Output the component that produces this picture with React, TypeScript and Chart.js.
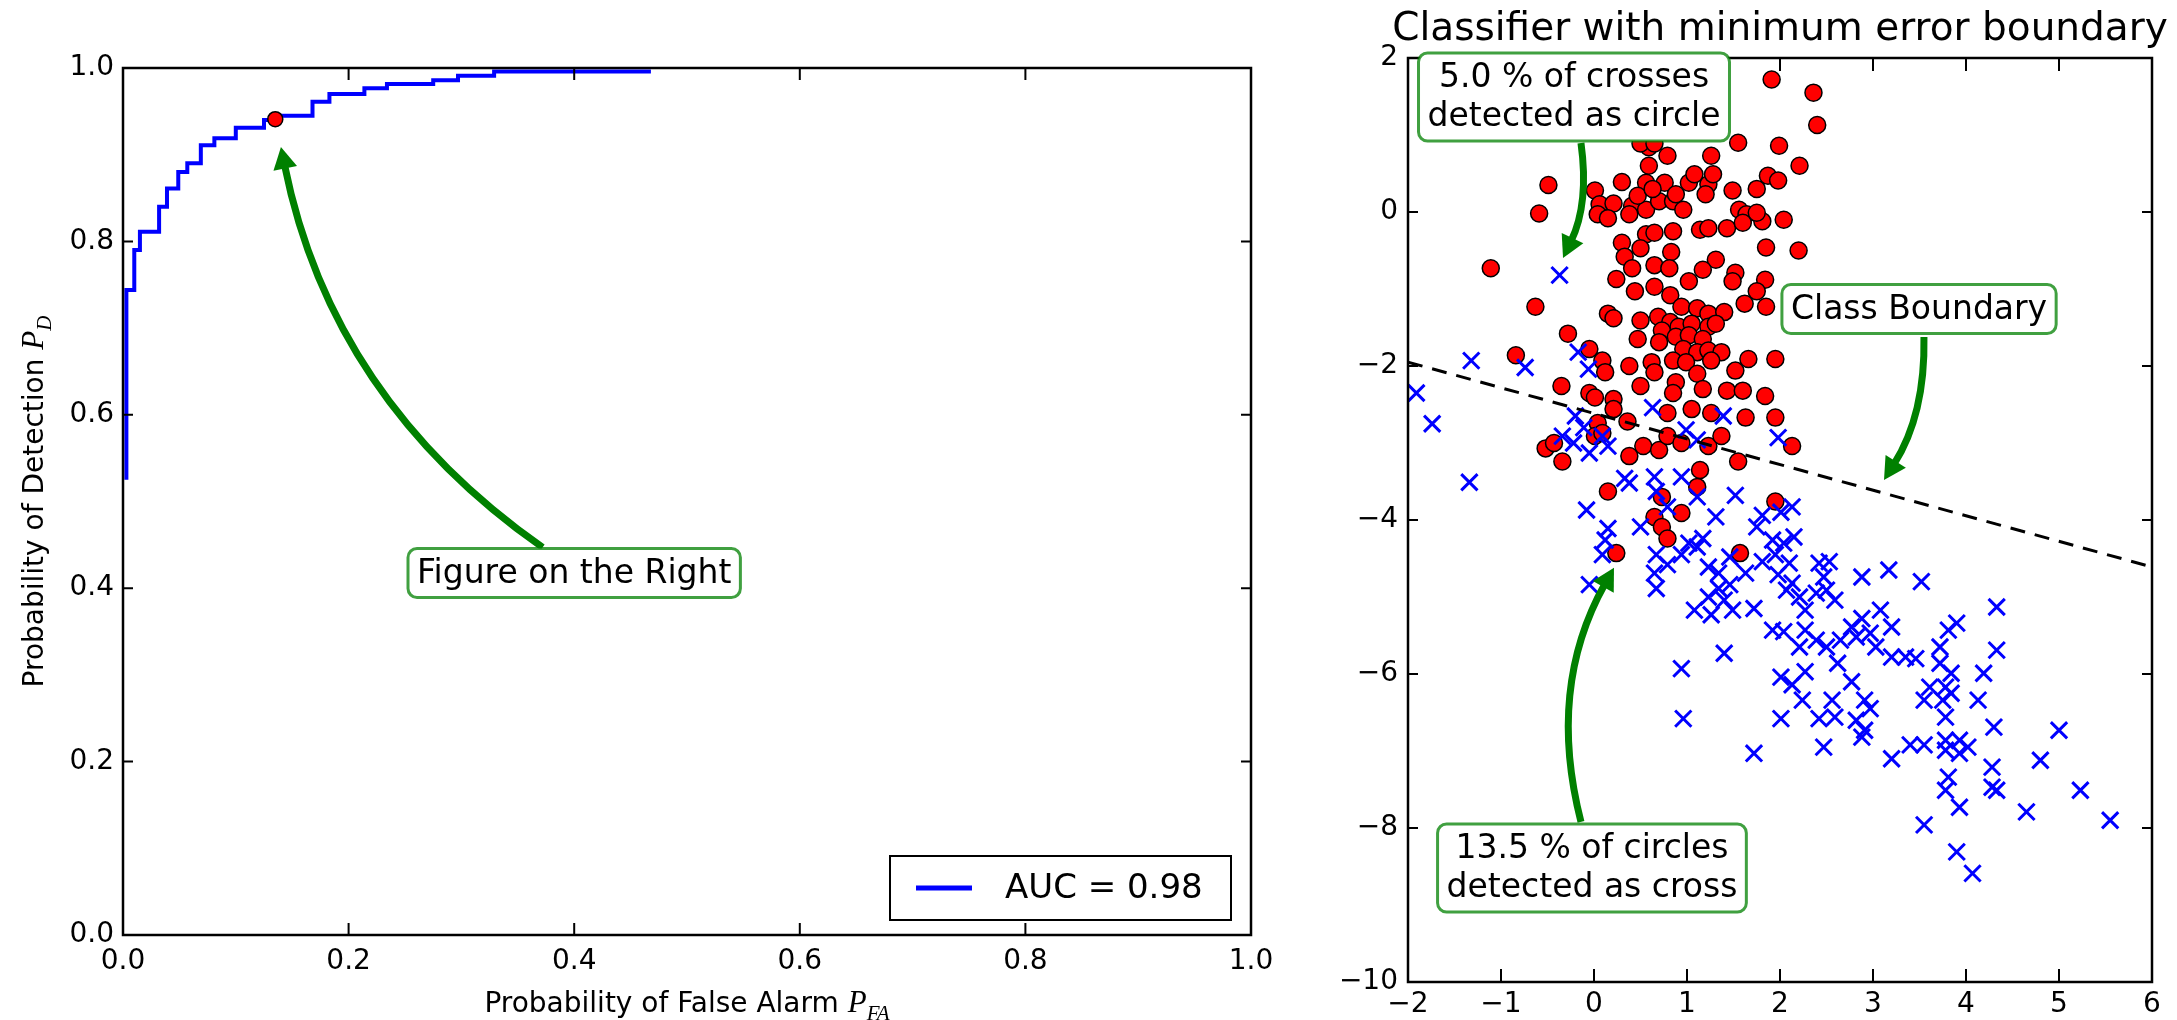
import React, { useEffect, useRef } from "react";
import { Chart, registerables } from "chart.js";

Chart.register(...registerables);

const SANS = "'DejaVu Sans', 'Noto Sans', sans-serif";
const MATH = "'Liberation Serif', 'DejaVu Serif', serif";
const GREEN = "#008000";

// ---------- Left chart: ROC curve ----------
const rocFpr = [0.003, 0.003, 0.010, 0.015, 0.032, 0.039, 0.049, 0.057, 0.069, 0.081, 0.100, 0.125, 0.139, 0.168, 0.183, 0.214, 0.234, 0.275, 0.297, 0.329, 0.468];
const rocTpr = [0.525, 0.744, 0.790, 0.811, 0.840, 0.861, 0.880, 0.890, 0.911, 0.919, 0.931, 0.940, 0.945, 0.961, 0.970, 0.9765, 0.9815, 0.986, 0.991, 0.996, 0.996];
const operatingPoint: [number, number] = [0.135, 0.941];
const aucLabel = "AUC = 0.98";
const rocTickStep = 0.2;

// ---------- Right chart: scatter ----------
const circlePoints: [number, number][] = [
  [1.91, 1.72], [2.36, 1.55], [2.40, 1.13], [1.55, 0.90], [1.99, 0.86], [0.79, 0.73], [1.26, 0.73], [0.59, 0.84], [0.59, 0.60], [2.21, 0.60],
  [-0.49, 0.35], [0.30, 0.39], [0.01, 0.28], [0.56, 0.38], [0.76, 0.38], [1.02, 0.38], [1.23, 0.36], [1.08, 0.49], [1.28, 0.49], [1.49, 0.28],
  [1.75, 0.30], [1.87, 0.47], [1.98, 0.41], [-0.59, -0.02], [0.06, 0.10], [0.21, 0.11], [0.41, 0.08], [0.56, 0.03], [0.70, 0.14], [0.85, 0.14],
  [0.96, 0.03], [0.04, -0.03], [0.15, -0.08], [0.38, -0.03], [0.47, 0.21], [0.63, 0.30], [0.88, 0.23], [1.20, 0.23], [1.56, 0.03], [1.64, -0.03],
  [1.81, -0.12], [2.04, -0.10], [1.75, -0.01], [1.14, -0.23], [1.23, -0.21], [1.43, -0.21], [1.60, -0.14], [0.56, -0.29], [0.65, -0.27], [0.85, -0.25],
  [0.30, -0.40], [0.50, -0.47], [0.33, -0.58], [0.83, -0.52], [1.85, -0.46], [2.20, -0.50], [-1.11, -0.73], [0.41, -0.73], [0.65, -0.69], [0.81, -0.73],
  [1.31, -0.62], [1.17, -0.75], [1.52, -0.79], [0.24, -0.87], [1.02, -0.90], [1.49, -0.90], [1.84, -0.88], [0.65, -0.97], [0.44, -1.03], [0.82, -1.08],
  [1.75, -1.03], [1.62, -1.19], [1.85, -1.23], [-0.63, -1.23], [0.15, -1.32], [0.21, -1.38], [0.50, -1.41], [0.69, -1.36], [0.94, -1.23], [1.11, -1.25],
  [1.23, -1.32], [1.40, -1.30], [0.82, -1.43], [0.73, -1.54], [0.91, -1.49], [1.05, -1.45], [1.23, -1.49], [1.31, -1.45], [-0.28, -1.58], [0.47, -1.65],
  [0.70, -1.69], [0.88, -1.62], [1.02, -1.60], [1.17, -1.65], [0.96, -1.78], [1.11, -1.82], [1.23, -1.80], [1.37, -1.82], [-0.84, -1.86], [-0.05, -1.78],
  [0.09, -1.93], [0.38, -2.00], [0.62, -1.95], [0.85, -1.93], [0.99, -1.95], [1.26, -1.93], [1.66, -1.91], [1.95, -1.91], [0.12, -2.08], [0.65, -2.08],
  [1.11, -2.10], [1.52, -2.06], [0.50, -2.26], [0.88, -2.21], [1.17, -2.30], [1.43, -2.32], [1.60, -2.32], [1.84, -2.39], [-0.35, -2.26], [-0.05, -2.35],
  [0.01, -2.41], [0.21, -2.43], [0.85, -2.35], [0.21, -2.56], [0.36, -2.72], [0.79, -2.61], [1.05, -2.56], [1.26, -2.61], [1.63, -2.67], [1.95, -2.67],
  [0.04, -2.74], [-0.52, -3.07], [-0.43, -3.00], [-0.34, -3.24], [0.01, -2.91], [0.09, -2.87], [0.38, -3.17], [0.53, -3.04], [0.70, -3.09], [0.79, -2.91],
  [0.94, -3.00], [1.23, -3.04], [1.37, -2.91], [1.55, -3.24], [2.13, -3.04], [1.14, -3.35], [0.15, -3.63], [1.11, -3.57], [0.73, -3.70], [1.95, -3.76],
  [0.65, -3.96], [0.73, -4.09], [0.79, -4.24], [0.94, -3.91], [0.24, -4.43], [1.57, -4.43], [0.50, 0.89], [0.65, 0.89],
];

const crossPoints: [number, number][] = [
  [-0.37, -0.82], [-1.32, -1.93], [-0.74, -2.02], [-1.91, -2.35], [-1.74, -2.75], [-1.34, -3.51], [-0.17, -1.82], [-0.06, -2.04], [0.63, -2.54], [1.39, -2.65],
  [-0.20, -2.65], [-0.11, -2.80], [-0.34, -2.91], [-0.22, -3.00], [-0.05, -3.13], [0.09, -2.91], [0.15, -3.04], [0.99, -2.83], [1.11, -2.96], [1.98, -2.93],
  [0.33, -3.46], [0.65, -3.44], [0.94, -3.44], [0.67, -3.63], [1.52, -3.68], [1.11, -3.70], [-0.08, -3.87], [0.38, -3.52], [0.79, -3.83], [1.31, -3.96],
  [1.81, -3.94], [2.13, -3.83], [2.01, -3.90], [0.15, -4.11], [0.12, -4.26], [0.09, -4.45], [-0.05, -4.84], [0.50, -4.09], [0.67, -4.45], [0.65, -4.69],
  [0.67, -4.89], [0.79, -4.58], [0.94, -4.45], [1.02, -4.30], [1.17, -4.24], [1.11, -4.35], [1.23, -4.61], [1.34, -4.69], [1.46, -4.48], [1.75, -4.09],
  [1.08, -5.17], [1.23, -5.00], [1.26, -5.23], [1.40, -5.04], [1.49, -5.17], [1.34, -4.89], [1.46, -4.84], [1.72, -5.15], [1.63, -4.69], [1.81, -4.54],
  [1.92, -4.26], [2.04, -4.30], [2.15, -4.22], [1.95, -4.45], [2.10, -4.56], [1.98, -4.71], [2.13, -4.82], [2.21, -5.00], [2.07, -4.91], [1.92, -5.43],
  [2.04, -5.45], [2.27, -5.17], [2.42, -4.56], [2.53, -4.54], [2.47, -4.74], [2.50, -4.91], [2.59, -5.04], [2.39, -4.95], [2.88, -4.74], [3.17, -4.65],
  [3.52, -4.80], [4.33, -5.13], [2.27, -5.43], [2.39, -5.56], [2.21, -5.65], [2.50, -5.65], [2.65, -5.56], [2.77, -5.39], [2.88, -5.28], [2.97, -5.47],
  [3.08, -5.17], [3.20, -5.39], [2.82, -5.52], [3.03, -5.65], [3.20, -5.78], [3.35, -5.78], [3.46, -5.80], [3.72, -5.65], [3.90, -5.34], [3.81, -5.43],
  [4.33, -5.69], [1.40, -5.73], [0.94, -5.93], [2.01, -6.04], [2.13, -6.14], [2.27, -5.97], [2.62, -5.86], [2.77, -6.10], [2.56, -6.34], [2.24, -6.34],
  [2.91, -6.34], [2.97, -6.45], [3.72, -5.86], [3.84, -5.99], [3.78, -6.17], [3.61, -6.17], [3.55, -6.34], [3.75, -6.34], [3.84, -6.25], [4.13, -6.34],
  [4.19, -5.99], [3.78, -6.56], [4.30, -6.69], [5.00, -6.73], [0.96, -6.58], [2.01, -6.58], [2.42, -6.58], [2.59, -6.56], [2.82, -6.60], [2.91, -6.73],
  [2.88, -6.82], [2.47, -6.95], [1.72, -7.03], [3.20, -7.10], [3.40, -6.92], [3.55, -6.92], [3.78, -6.86], [3.93, -6.86], [4.02, -6.95], [3.78, -6.99],
  [3.93, -7.03], [4.28, -7.21], [4.80, -7.12], [3.81, -7.34], [3.78, -7.51], [4.28, -7.47], [4.33, -7.51], [5.23, -7.51], [3.93, -7.73], [4.65, -7.79],
  [3.55, -7.96], [5.55, -7.90], [3.90, -8.31], [4.07, -8.59],
];

const boundaryX = [-2, 6];
const boundaryY = [-1.95, -4.61];
const scatterTitle = "Classifier with minimum error boundary";

type Note = { lines: string[]; box: [number, number]; tail: [number, number]; tip: [number, number]; rad: number };

const leftNotes: Note[] = [
  { lines: ["Figure on the Right"], box: [0.40, 0.4175], tail: [0.372, 0.447], tip: [0.140, 0.909], rad: 0.2 },
];
const rightNotes: Note[] = [
  { lines: ["5.0 % of crosses", "detected as circle"], box: [-0.215, 1.494], tail: [-0.14, 0.896], tip: [-0.333, -0.597], rad: 0.15 },
  { lines: ["Class Boundary"], box: [3.495, -1.26], tail: [3.548, -1.623], tip: [3.118, -3.48], rad: 0.15 },
  { lines: ["13.5 % of circles", "detected as cross"], box: [-0.022, -8.52], tail: [-0.14, -7.92], tip: [0.215, -4.62], rad: 0.2 },
];

// ---------- helpers ----------
function rocStairs() {
  const pts: { x: number; y: number }[] = [];
  for (let i = 0; i < rocFpr.length; i++) {
    if (i > 0) pts.push({ x: rocFpr[i], y: rocTpr[i - 1] });
    pts.push({ x: rocFpr[i], y: rocTpr[i] });
  }
  return pts;
}

const minus = (v: number) => (v < 0 ? "\u2212" + Math.abs(v) : String(v));

const fixY = (w: number) => (s: any) => {
  s.width = w;
  s.paddingTop = 0; s.paddingBottom = 0; s.paddingLeft = 0; s.paddingRight = 0;
};
const fixX = (h: number) => (s: any) => {
  s.height = h;
  s.paddingTop = 0; s.paddingBottom = 0; s.paddingLeft = 0; s.paddingRight = 0;
};

function drawFrame(chart: any, xLen: number, yLen: number) {
  const { ctx, chartArea: a, scales } = chart;
  ctx.save();
  ctx.strokeStyle = "#000";
  ctx.lineWidth = 2;
  ctx.beginPath();
  for (const t of scales.x.ticks) {
    const px = scales.x.getPixelForValue(t.value);
    ctx.moveTo(px, a.bottom); ctx.lineTo(px, a.bottom - xLen);
    ctx.moveTo(px, a.top); ctx.lineTo(px, a.top + xLen);
  }
  for (const t of scales.y.ticks) {
    const py = scales.y.getPixelForValue(t.value);
    ctx.moveTo(a.left, py); ctx.lineTo(a.left + yLen, py);
    ctx.moveTo(a.right, py); ctx.lineTo(a.right - yLen, py);
  }
  ctx.stroke();
  ctx.lineWidth = 2.5;
  ctx.strokeRect(a.left, a.top, a.right - a.left, a.bottom - a.top);
  ctx.restore();
}

function drawNotes(chart: any, notes: Note[]) {
  const { ctx, scales } = chart;
  const sx = scales.x, sy = scales.y;
  ctx.save();
  for (const n of notes) {
    const tx = sx.getPixelForValue(n.tail[0]), ty = sy.getPixelForValue(n.tail[1]);
    const hx = sx.getPixelForValue(n.tip[0]), hy = sy.getPixelForValue(n.tip[1]);
    const dx = hx - tx, dy = hy - ty;
    const cx = (tx + hx) / 2 + n.rad * dy, cy = (ty + hy) / 2 - n.rad * dx;
    let ux = hx - cx, uy = hy - cy;
    const ul = Math.hypot(ux, uy) || 1;
    ux /= ul; uy /= ul;
    const headL = 22, headW = 24;
    const ex = hx - ux * headL * 0.85, ey = hy - uy * headL * 0.85;
    ctx.strokeStyle = GREEN;
    ctx.lineWidth = 7;
    ctx.lineCap = "butt";
    ctx.beginPath();
    ctx.moveTo(tx, ty);
    ctx.quadraticCurveTo(cx, cy, ex, ey);
    ctx.stroke();
    const bx = hx - ux * headL, by = hy - uy * headL;
    ctx.fillStyle = GREEN;
    ctx.beginPath();
    ctx.moveTo(hx, hy);
    ctx.lineTo(bx - uy * headW / 2, by + ux * headW / 2);
    ctx.lineTo(bx + uy * headW / 2, by - ux * headW / 2);
    ctx.closePath();
    ctx.fill();

    // box
    ctx.font = `33px ${SANS}`;
    const lineH = 39, padX = 9, padY = 5;
    let w = 0;
    for (const l of n.lines) w = Math.max(w, ctx.measureText(l).width);
    const bw = w + 2 * padX, bh = n.lines.length * lineH + 2 * padY;
    const bcx = sx.getPixelForValue(n.box[0]), bcy = sy.getPixelForValue(n.box[1]);
    const left = bcx - bw / 2, top = bcy - bh / 2;
    ctx.beginPath();
    (ctx as any).roundRect(left, top, bw, bh, 9);
    ctx.fillStyle = "#fff";
    ctx.fill();
    ctx.strokeStyle = "rgba(0,128,0,0.75)";
    ctx.lineWidth = 3;
    ctx.stroke();
    ctx.fillStyle = "#000";
    ctx.textAlign = "center";
    ctx.textBaseline = "middle";
    n.lines.forEach((l, i) => ctx.fillText(l, bcx, top + padY + lineH * (i + 0.5) + 1));
  }
  ctx.restore();
}

type Part = { t: string; font: string; dy: number };
function drawMixed(ctx: CanvasRenderingContext2D, parts: Part[], cx: number, baseY: number) {
  let total = 0;
  const ws = parts.map((p) => { ctx.font = p.font; const w = ctx.measureText(p.t).width; total += w; return w; });
  let x = cx - total / 2;
  ctx.textAlign = "left";
  ctx.textBaseline = "alphabetic";
  parts.forEach((p, i) => { ctx.font = p.font; ctx.fillText(p.t, x, baseY + p.dy); x += ws[i]; });
}

const tickFont = { family: SANS, size: 28 };

export default function App() {
  const leftRef = useRef<HTMLCanvasElement>(null);
  const rightRef = useRef<HTMLCanvasElement>(null);

  useEffect(() => {
    document.body.style.margin = "0";

    const leftPlugin = {
      id: "leftDecor",
      afterDatasetsDraw(chart: any) {
        const { ctx, chartArea: a } = chart;
        drawFrame(chart, 12, 10);
        // legend
        ctx.save();
        const lw = 341, lh = 64;
        const lx = a.right - 20 - lw, ly = a.bottom - 15 - lh;
        ctx.fillStyle = "#fff";
        ctx.fillRect(lx, ly, lw, lh);
        ctx.strokeStyle = "#000";
        ctx.lineWidth = 2;
        ctx.strokeRect(lx, ly, lw, lh);
        const ds = chart.data.datasets[0];
        ctx.strokeStyle = ds.borderColor;
        ctx.lineWidth = 5;
        ctx.beginPath();
        ctx.moveTo(lx + 26, ly + lh / 2); ctx.lineTo(lx + 82, ly + lh / 2);
        ctx.stroke();
        ctx.fillStyle = "#000";
        ctx.font = `34px ${SANS}`;
        ctx.textAlign = "left";
        ctx.textBaseline = "middle";
        ctx.fillText(ds.label, lx + 115, ly + lh / 2 + 1);
        // axis labels
        drawMixed(ctx, [
          { t: "Probability of False Alarm ", font: `28px ${SANS}`, dy: 0 },
          { t: "P", font: `italic 31px ${MATH}`, dy: 0 },
          { t: "FA", font: `italic 21px ${MATH}`, dy: 8 },
        ], (a.left + a.right) / 2, 1012);
        ctx.translate(43, (a.top + a.bottom) / 2);
        ctx.rotate(-Math.PI / 2);
        drawMixed(ctx, [
          { t: "Probability of Detection ", font: `28px ${SANS}`, dy: 0 },
          { t: "P", font: `italic 31px ${MATH}`, dy: 0 },
          { t: "D", font: `italic 21px ${MATH}`, dy: 8 },
        ], 0, 0);
        ctx.restore();
        drawNotes(chart, leftNotes);
      },
    };

    const rightPlugin = {
      id: "rightDecor",
      afterDatasetsDraw(chart: any) {
        const { ctx, chartArea: a } = chart;
        drawFrame(chart, 13, 10);
        drawNotes(chart, rightNotes);
        ctx.save();
        ctx.fillStyle = "#000";
        ctx.font = `39px ${SANS}`;
        ctx.textAlign = "center";
        ctx.textBaseline = "alphabetic";
        ctx.fillText(scatterTitle, (a.left + a.right) / 2, 40);
        ctx.restore();
      },
    };

    const c1 = new Chart(leftRef.current!, {
      type: "scatter",
      data: {
        datasets: [
          {
            label: aucLabel,
            data: rocStairs(),
            showLine: true,
            borderColor: "#0000ff",
            borderWidth: 4,
            pointRadius: 0,
            fill: false,
            order: 1,
          } as any,
          {
            label: "operating point",
            data: [{ x: operatingPoint[0], y: operatingPoint[1] }],
            pointRadius: 7.5,
            pointBackgroundColor: "#ff0000",
            pointBorderColor: "#000",
            pointBorderWidth: 1.5,
            order: 0,
          } as any,
        ],
      },
      options: {
        animation: false,
        responsive: false,
        devicePixelRatio: 1,
        events: [],
        layout: { padding: { left: 0, right: 49, top: 68, bottom: 0 }, autoPadding: false },
        plugins: { legend: { display: false }, tooltip: { enabled: false }, title: { display: false } },
        scales: {
          x: {
            type: "linear", min: 0, max: 1,
            grid: { display: false, drawTicks: false },
            border: { display: false },
            ticks: { stepSize: rocTickStep, autoSkip: false, maxRotation: 0, padding: 10, color: "#000", font: tickFont, callback: (v: any) => Number(v).toFixed(1) },
            afterFit: fixX(85),
          },
          y: {
            type: "linear", min: 0, max: 1,
            grid: { display: false, drawTicks: false },
            border: { display: false },
            ticks: { stepSize: rocTickStep, autoSkip: false, padding: 9, color: "#000", font: tickFont, callback: (v: any) => Number(v).toFixed(1) },
            afterFit: fixY(123),
          },
        },
      } as any,
      plugins: [leftPlugin],
    });

    const c2 = new Chart(rightRef.current!, {
      type: "scatter",
      data: {
        datasets: [
          {
            label: "boundary",
            data: boundaryX.map((x, i) => ({ x, y: boundaryY[i] })),
            showLine: true,
            borderColor: "#000",
            borderWidth: 3,
            borderDash: [15, 10],
            pointRadius: 0,
            fill: false,
            order: 0,
          } as any,
          {
            label: "crosses",
            data: crossPoints.map(([x, y]) => ({ x, y })),
            pointStyle: "crossRot",
            pointRadius: 11.5,
            pointBorderColor: "#0000ff",
            pointBackgroundColor: "#0000ff",
            pointBorderWidth: 3,
            order: 1,
          } as any,
          {
            label: "circles",
            data: circlePoints.map(([x, y]) => ({ x, y })),
            pointStyle: "circle",
            pointRadius: 8.5,
            pointBackgroundColor: "#ff0000",
            pointBorderColor: "#000",
            pointBorderWidth: 1.5,
            order: 2,
          } as any,
        ],
      },
      options: {
        animation: false,
        responsive: false,
        devicePixelRatio: 1,
        events: [],
        layout: { padding: { left: 0, right: 25, top: 58, bottom: 0 }, autoPadding: false },
        plugins: { legend: { display: false }, tooltip: { enabled: false }, title: { display: false } },
        scales: {
          x: {
            type: "linear", min: -2, max: 6,
            grid: { display: false, drawTicks: false },
            border: { display: false },
            ticks: { stepSize: 1, autoSkip: false, maxRotation: 0, padding: 6, color: "#000", font: tickFont, callback: (v: any) => minus(Number(v)) },
            afterFit: fixX(38),
          },
          y: {
            type: "linear", min: -10, max: 2,
            grid: { display: false, drawTicks: false },
            border: { display: false },
            ticks: { stepSize: 2, autoSkip: false, padding: 10, color: "#000", font: tickFont, callback: (v: any) => minus(Number(v)) },
            afterFit: fixY(78),
          },
        },
      } as any,
      plugins: [rightPlugin],
    });

    return () => { c1.destroy(); c2.destroy(); };
  }, []);

  return (
    <div style={{ position: "absolute", left: 0, top: 0, width: 2177, height: 1020, background: "#fff" }}>
      <canvas ref={leftRef} width={1300} height={1020} style={{ position: "absolute", left: 0, top: 0, width: 1300, height: 1020 }} />
      <canvas ref={rightRef} width={847} height={1020} style={{ position: "absolute", left: 1330, top: 0, width: 847, height: 1020 }} />
    </div>
  );
}
